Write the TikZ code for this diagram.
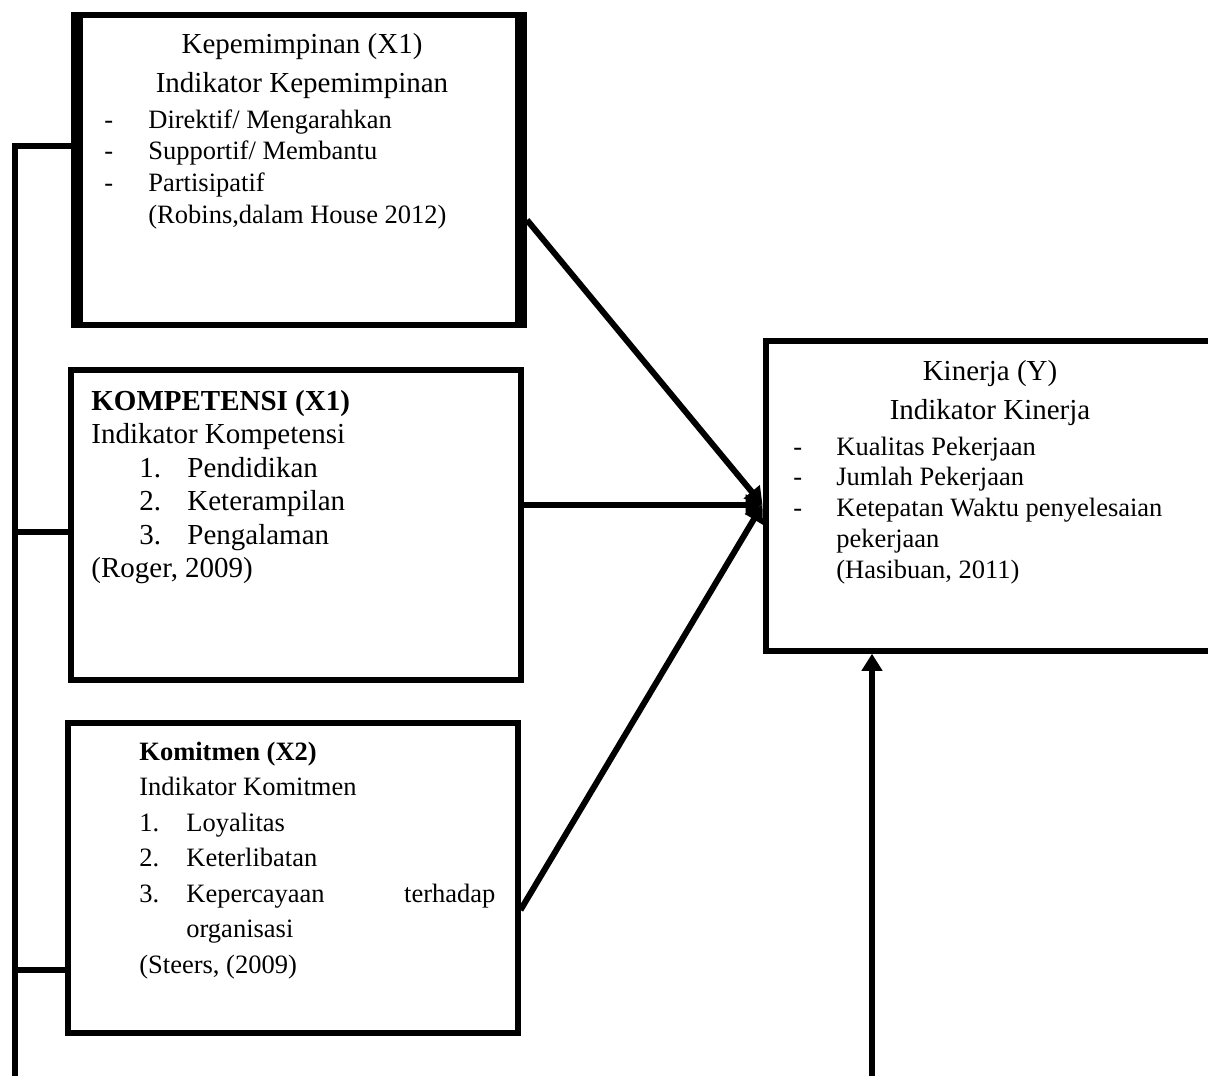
\documentclass[tikz,border=0pt]{standalone}
\usepackage{fontspec}
\setmainfont{Liberation Serif}
\usetikzlibrary{arrows.meta}

\tikzset{
  box/.style={draw, line width=3pt, minimum width=225pt, minimum height=155pt},
  txt/.style 2 args={font=\fontsize{#1}{#2}\selectfont, inner sep=0pt},
  link/.style={line width=3pt},
  arr/.style={link, -{Triangle[length=8.5pt,width=10pt]}}
}

\begin{document}
\begin{tikzpicture}[x=0.5pt,y=-0.5pt]
		\useasboundingbox (0,0) rectangle (1208,1076);
		\clip (0,0) rectangle (1208,1076);
		% boxes
		\node[box] (lead) at (299,170) {};
		\node[box] (comp) at (296,524.5) {};
		\node[box] (komit) at (292.5,878) {};
		\node[box] (perf) at (990.5,495.75) {};
		\draw[line width=4pt] ([xshift=4pt]lead.north west) -- ([xshift=4pt]lead.south west);
		\draw[line width=4pt] ([xshift=-4pt]lead.north east) -- ([xshift=-4pt]lead.south east);
		% texts
		\node[txt={14.5}{16}, anchor=base] (leadT) at (302,53) {Kepemimpinan (X1)};
		\node[txt={14.5}{16}, anchor=base] (leadI) at (302,92) {Indikator Kepemimpinan};
		\node[txt={13.25}{15.85}, anchor=base west] (leadL) at (104,128) {\begin{tabular}[t]{@{}p{22pt}@{}l@{}}
			-&Direktif/ Mengarahkan\\
			-&Supportif/ Membantu\\
			-&Partisipatif\\
			&(Robins,dalam House 2012)
		\end{tabular}};
		\node[txt={14.5}{16.75}, anchor=base west] (compL) at (91,410) {\begin{tabular}[t]{@{}p{24pt}@{}p{24pt}@{}l@{}}
			\multicolumn{3}{@{}l@{}}{\textbf{KOMPETENSI (X1)}}\\
			\multicolumn{3}{@{}l@{}}{Indikator Kompetensi}\\
			&1.&Pendidikan\\
			&2.&Keterampilan\\
			&3.&Pengalaman\\
			\multicolumn{3}{@{}l@{}}{(Roger, 2009)}
		\end{tabular}};
		\node[txt={13.25}{17.75}, anchor=base west] (komitL) at (139,760) {\begin{tabular}[t]{@{}p{23.5pt}@{}l@{}}
			\multicolumn{2}{@{}l@{}}{\textbf{Komitmen (X2)}}\\
			\multicolumn{2}{@{}l@{}}{Indikator Komitmen}\\
			1.&Loyalitas\\
			2.&Keterlibatan\\
			3.&\makebox[154.5pt][s]{Kepercayaan\hfill terhadap}\\
			&organisasi\\
			\multicolumn{2}{@{}l@{}}{(Steers, (2009)}
		\end{tabular}};
		\node[txt={14.5}{16}, anchor=base] (perfT) at (990,380) {Kinerja (Y)};
		\node[txt={14.5}{16}, anchor=base] (perfI) at (990,419) {Indikator Kinerja};
		\node[txt={13.25}{15.4}, anchor=base west] (perfL) at (793,455) {\begin{tabular}[t]{@{}p{21.5pt}@{}l@{}}
			-&Kualitas Pekerjaan\\
			-&Jumlah Pekerjaan\\
			-&Ketepatan Waktu penyelesaian\\
			&pekerjaan\\
			&(Hasibuan, 2011)
		\end{tabular}};
		% connectors
		\coordinate (bus1) at (15,146);
		\coordinate (bus2) at (15,532);
		\coordinate (bus3) at (15,970);
		\coordinate (busEnd) at (15,1076);
		\draw[link] (bus1 -| lead.west) -- (bus1) -- (busEnd);
		\draw[link] (bus2) -- (bus2 -| comp.west);
		\draw[link] (bus3) -- (bus3 -| komit.west);
		\coordinate (hub) at ([yshift=-4.5pt]perf.west);
		\draw[arr] ([yshift=-25pt]lead.east) -- (hub);
		\draw[arr] (hub -| comp.east) -- (hub);
		\draw[arr] ([yshift=-16pt]komit.east) -- (hub);
		\coordinate (perfIn) at (872,1076);
		\draw[arr] (perfIn) -- (perfIn |- perf.south);
\end{tikzpicture}
\end{document}
